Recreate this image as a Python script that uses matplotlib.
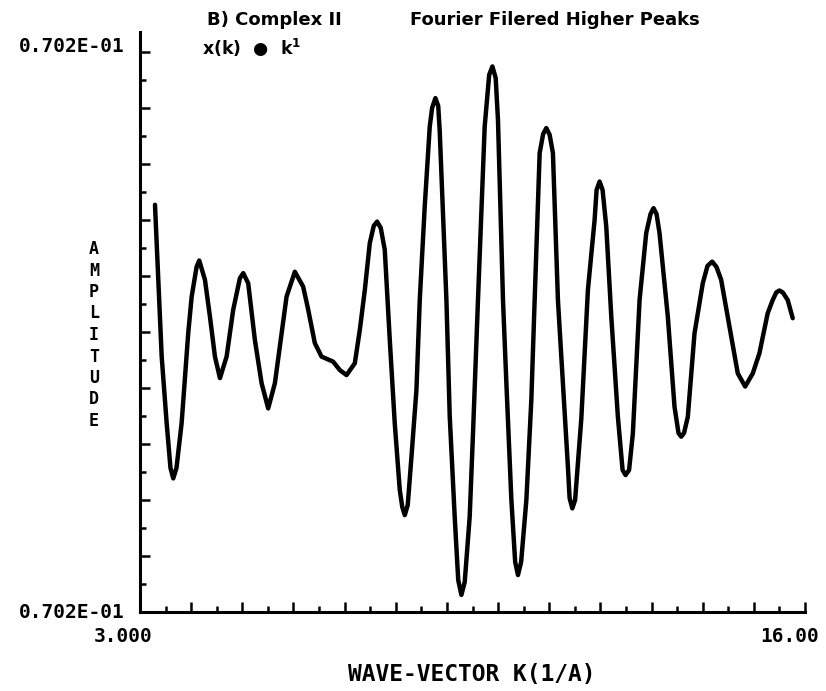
import matplotlib
matplotlib.use("Agg")
import matplotlib.pyplot as plt
import numpy as np
from matplotlib.ticker import MultipleLocator

# Wave-vector k (1/A)
k = [3.293, 3.424, 3.521, 3.596, 3.650, 3.713, 3.814, 3.943, 4.010, 4.107,
     4.158, 4.270, 4.367, 4.465, 4.563, 4.693, 4.822, 4.953, 5.018, 5.115,
     5.246, 5.377, 5.506, 5.637, 5.768, 5.865, 6.027, 6.189, 6.281, 6.418,
     6.549, 6.775, 6.906, 7.037, 7.199, 7.297, 7.395, 7.492, 7.570, 7.635, 7.707, 7.785,
     7.883, 7.980, 8.078, 8.127, 8.176, 8.234, 8.307, 8.404, 8.469, 8.566,
     8.664, 8.711, 8.775, 8.830, 8.859, 8.990, 9.055, 9.152, 9.221, 9.283, 9.348, 9.445,
     9.510, 9.607, 9.738, 9.826, 9.889, 9.953, 9.998, 10.096, 10.162, 10.260,
     10.334, 10.389, 10.451, 10.553, 10.650, 10.715, 10.813, 10.881, 10.943, 11.008, 11.072, 11.170,
     11.268, 11.365, 11.398, 11.451, 11.506, 11.627, 11.756, 11.887, 11.926, 11.984, 12.043, 12.115, 12.213, 12.342,
     12.434, 12.492, 12.561, 12.635, 12.766, 12.896, 12.980, 13.039, 13.098, 13.156, 13.318, 13.449, 13.527, 13.580, 13.635, 13.709,
     13.840, 14.002, 14.094, 14.186, 14.270, 14.361, 14.523, 14.686, 14.830, 14.979, 15.109, 15.271,
     15.369, 15.438, 15.500, 15.566, 15.662, 15.760]

# Amplitude (arbitrary units, axis spans -1 .. 1)
amp = [0.454, -0.088, -0.325, -0.486, -0.523, -0.486, -0.325, -0.004, 0.126, 0.233,
       0.255, 0.186, 0.055, -0.088, -0.165, -0.088, 0.079, 0.192, 0.210, 0.174,
       -0.029, -0.183, -0.273, -0.183, -0.005, 0.126, 0.215, 0.162, 0.086, -0.040,
       -0.088, -0.106, -0.136, -0.154, -0.112, 0.007, 0.150, 0.317, 0.379, 0.394, 0.371, 0.293,
       -0.029, -0.326, -0.564, -0.625, -0.654, -0.618, -0.445, -0.207, 0.114, 0.448,
       0.733, 0.800, 0.835, 0.807, 0.718, 0.114, -0.302, -0.660, -0.886, -0.939, -0.893, -0.660,
       -0.361, 0.114, 0.733, 0.918, 0.948, 0.907, 0.757, 0.114, -0.182, -0.600,
       -0.821, -0.868, -0.821, -0.600, -0.243, 0.114, 0.639, 0.707, 0.728, 0.704, 0.639, 0.114,
       -0.182, -0.481, -0.593, -0.630, -0.600, -0.310, 0.150, 0.400, 0.507, 0.537, 0.507, 0.376, 0.055, -0.303,
       -0.493, -0.511, -0.493, -0.362, 0.114, 0.353, 0.421, 0.442, 0.421, 0.353, 0.055, -0.267, -0.361, -0.374, -0.361, -0.303,
       -0.005, 0.174, 0.236, 0.251, 0.232, 0.186, 0.019, -0.148, -0.195, -0.148, -0.076, 0.067,
       0.114, 0.141, 0.148, 0.141, 0.114, 0.049]

title_parts = ["B) Complex II", "Fourier Filered Higher Peaks"]
formula_text = "x(k)  \u25CF  k$^{\\mathregular{1}}$"
y_end_label = "0.702E-01"
x_end_labels = ["3.000", "16.00"]
x_label = "WAVE-VECTOR K(1/A)"
y_label = "AMPLITUDE"

W, H = 826, 691
fig = plt.figure(figsize=(W / 100, H / 100), dpi=100)
fig.patch.set_facecolor("white")

def fx(px):
    return px / W

def fy(py):
    return 1 - py / H

ax = fig.add_axes([fx(140), fy(612), (805 - 140) / W, (612 - 32) / H])
ax.plot(k, amp, color="black", lw=3.2, solid_joinstyle="round", solid_capstyle="round")
ax.set_xlim(3, 16)
ax.set_ylim(-1, 1.071)
ax.set_facecolor("white")
for s in ["top", "right"]:
    ax.spines[s].set_visible(False)
for s in ["left", "bottom"]:
    ax.spines[s].set_linewidth(2.2)
    ax.spines[s].set_color("black")

ax.xaxis.set_major_locator(MultipleLocator(1))
ax.xaxis.set_minor_locator(MultipleLocator(0.5))
ax.set_yticks(np.arange(-1, 1.001, 0.2))
ax.yaxis.set_minor_locator(MultipleLocator(0.1))
ax.tick_params(which="major", direction="in", length=7, width=1.8,
               labelleft=False, labelbottom=False, color="black")
ax.tick_params(which="minor", direction="in", length=4, width=1.8, color="black")

mono = dict(family="DejaVu Sans Mono", weight="bold", color="black")

fig.text(fx(125), fy(47), y_end_label, ha="right", va="center", fontsize=14, **mono)
fig.text(fx(125), fy(613), y_end_label, ha="right", va="center", fontsize=14, **mono)
fig.text(fx(123), fy(636), x_end_labels[0], ha="center", va="center", fontsize=14, **mono)
fig.text(fx(790), fy(636), x_end_labels[1], ha="center", va="center", fontsize=14, **mono)
fig.text(fx(472), fy(674), x_label, ha="center", va="center", fontsize=16.5, **mono)
fig.text(fx(94), fy(335), "\n".join(y_label), ha="center", va="center",
         fontsize=12, linespacing=1.25, **mono)

sans = dict(family="DejaVu Sans", weight="bold", color="black")
fig.text(fx(207), fy(20), title_parts[0], ha="left", va="center", fontsize=13, **sans)
fig.text(fx(410), fy(20), title_parts[1], ha="left", va="center", fontsize=13, **sans)
fig.text(fx(202), fy(48), formula_text, ha="left", va="center", fontsize=12.5, **sans)

fig.savefig("out.png", dpi=100, facecolor="white")
